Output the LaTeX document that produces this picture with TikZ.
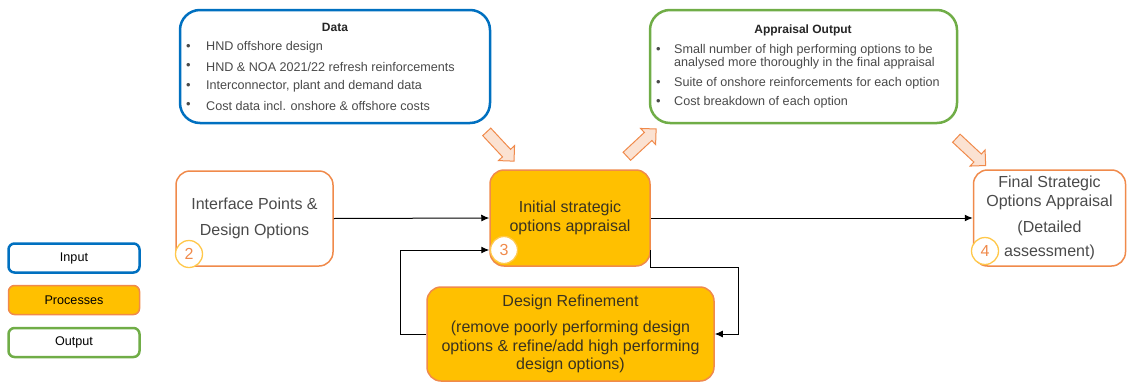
\documentclass[tikz,border=0pt]{standalone}
\usepackage{fontspec}
\setmainfont{Liberation Sans}
\usetikzlibrary{shapes.arrows,arrows.meta}
\definecolor{cblue}{HTML}{0070C0}
\definecolor{cgreen}{HTML}{70AD47}
\definecolor{corange}{HTML}{F08A4B}
\definecolor{cfill}{HTML}{FFC000}
\definecolor{cpeach}{HTML}{FBE2D2}
\definecolor{ccircle}{HTML}{FFC84A}
\definecolor{ctext}{HTML}{4A4A4A}
\definecolor{cdark}{HTML}{3A3320}
\begin{document}
\begin{tikzpicture}[x=1pt,y=-1pt,
  inbox/.style={draw=cblue, line width=2.5pt, fill=white, rounded corners=20pt, inner sep=0pt},
  outbox/.style={draw=cgreen, line width=2.5pt, fill=white, rounded corners=20pt, inner sep=0pt},
  procbox/.style={draw=corange, fill=cfill, line width=1.5pt, rounded corners=14pt, align=center, text=cdark, font=\fontsize{16}{18.5}\selectfont, inner sep=0pt},
  plainbox/.style={draw=corange, fill=white, line width=1.5pt, rounded corners=14pt, align=center, text=ctext, font=\fontsize{16}{18.5}\selectfont, inner sep=0pt},
  legbox/.style={line width=2.5pt, fill=white, rounded corners=6pt, minimum width=131pt, minimum height=29pt, inner sep=0pt, text=black, font=\fontsize{12.6}{14}\selectfont},
  numcirc/.style={circle, draw=ccircle, fill=white, line width=1.3pt, minimum size=27pt, inner sep=0pt, text=corange, font=\fontsize{16}{16}\selectfont},
  boxtitle/.style={inner sep=0pt, text=black!85, font=\bfseries\fontsize{12}{14}\selectfont},
  itemtext/.style={inner sep=0pt, anchor=west, text=ctext, font=\fontsize{12.6}{14}\selectfont},
  bullettext/.style={inner sep=0pt, anchor=west, text=ctext, font=\fontsize{13}{14}\selectfont},
  conn/.style={draw=black, line width=1pt, -{Latex[length=8pt,width=7pt]}},
  blockarrow/.style={single arrow, draw=corange, fill=cpeach, line width=1pt, minimum height=40pt, inner sep=5pt, single arrow head extend=5.5pt}
]
\useasboundingbox (0,0) rectangle (1127,383);

% Data box
\node[inbox, minimum width=310pt, minimum height=113pt] (data) at (335,66.5) {};
\node[boxtitle] (dtitle) at (335,27) {Data};
\foreach \yy/\tt in {47/{HND offshore design}, 66.5/{HND \& NOA 2021{/}22 refresh reinforcements}, 86/{Interconnector, plant and demand data}, 105.5/{Cost data incl. onshore \& offshore costs}}{
  \node[bullettext] at (186,\yy) {•};
  \node[itemtext] at (206,\yy) {\tt};
}

% Appraisal output box
\node[outbox, minimum width=307pt, minimum height=113pt] (appr) at (803.5,66.5) {};
\node[boxtitle] (atitle) at (803,30) {Appraisal Output};
\node[bullettext] at (656,50) {•};
\node[itemtext] at (674,50) {Small number of high performing options to be};
\node[itemtext] at (674,63.5) {analysed more thoroughly in the final appraisal};
\node[bullettext] at (656,83) {•};
\node[itemtext] at (674,83) {Suite of onshore reinforcements for each option};
\node[bullettext] at (656,102) {•};
\node[itemtext] at (674,102) {Cost breakdown of each option};

% Process row
\node[plainbox, minimum width=157pt, minimum height=95pt] (iface) at (254.5,218.5) {Interface Points \&\\[7pt]Design Options};
\node[procbox, minimum width=160pt, minimum height=96pt] (init) at (570,218) {Initial strategic\\options appraisal};
\node[procbox, minimum width=287pt, minimum height=94pt] (refine) at (570.5,334) {Design Refinement\\[8pt](remove poorly performing design\\options \& refine/add high performing\\design options)};
\node[plainbox, minimum width=152pt, minimum height=96pt] (final) at (1049.5,218) {Final Strategic\\Options Appraisal\\[8pt](Detailed\\[5pt]assessment)};

% numbers
\node[numcirc] (n2) at (189,254) {2};
\node[numcirc] (n3) at (504,250) {3};
\node[numcirc] (n4) at (985,251) {4};

% block arrows
\node[blockarrow, rotate=-47] (ba1) at (498.5,144.5) {};
\node[blockarrow, rotate=43] (ba2) at (639.5,144.5) {};
\node[blockarrow, rotate=-43] (ba3) at (969,150) {};

% connectors
\draw[conn] (iface.east) -- (init.west);
\draw[conn] (init.east) -- (final.west);
\draw[conn] ([yshift=-32pt]init.east) -- ++(0,17) -- ++(88,0) |- (refine.east);
\draw[conn] (refine.west) -- ++(-26,0) |- ([yshift=-32pt]init.west);

% legend
\node[legbox, draw=cblue] (lin) at (74,258) {Input};
\node[legbox, draw=corange, fill=cfill, line width=1.5pt] (lproc) at (74,300) {Processes};
\node[legbox, draw=cgreen] (lout) at (74,342.5) {Output};
\end{tikzpicture}
\end{document}
